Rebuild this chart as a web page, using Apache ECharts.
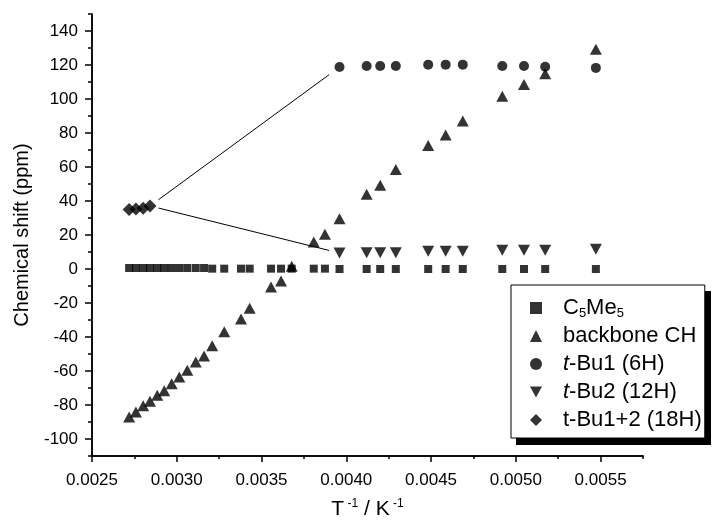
<!DOCTYPE html>
<html><head><meta charset="utf-8">
<script src="https://cdn.jsdelivr.net/npm/echarts@6/dist/echarts.min.js"></script>
<style>html,body{margin:0;padding:0;background:#fff}#c{width:719px;height:522px}</style>
</head><body><div id="c"></div>
<script>
// 1/T values (K^-1) for all measured temperatures
const invT = [0.002719,0.002759,0.002802,0.002842,0.002885,0.002926,0.00297,0.003015,0.003062,0.003112,0.003161,
  0.003209,0.00328,0.003379,0.00343,0.003556,0.003615,0.003678,0.003808,0.003874,
  0.00396,0.00412,0.0042,0.004292,0.004483,0.004586,0.004687,0.00492,0.005048,0.005173,0.005472];
const c5me5 = [0.6,0.6,0.6,0.6,0.6,0.6,0.6,0.6,0.6,0.6,0.6,
  0.2,0.2,0.2,0.2,0.2,0.2,0.2,0.2,0.2,
  0,0,0,0,0,0,0,0,0,0,0];
const backbone = [-87.1,-84.1,-80.4,-77.8,-74.3,-71.6,-67.5,-63.5,-59.6,-54.7,-51.2,
  -45.1,-36.9,-29.4,-23.1,-10.6,-7.1,1.6,15.9,20.4,
  29.6,43.9,49.2,58.5,72.6,78.8,87.1,101.6,108.5,114.9,129.2];
// low-temperature (split) t-Bu signals
const lowInvT = [0.00396,0.00412,0.0042,0.004292,0.004483,0.004586,0.004687,0.00492,0.005048,0.005173,0.005472];
const tBu1 = [118.8,119.4,119.4,119.4,120.2,120.2,120.2,119.4,119.4,119.0,118.3];
const tBu2 = [9.4,9.6,9.6,9.6,10.4,10.4,10.4,11.0,11.0,11.0,11.6];
// high-temperature (averaged) t-Bu signal
const highInvT = [0.002719,0.002759,0.002802,0.002842];
const tBu12 = [35.0,35.3,35.7,37.1];

const xMajor = [0.0025,0.0030,0.0035,0.0040,0.0045,0.0050,0.0055];
const xMinor = [0.00275,0.00325,0.00375,0.00425,0.00475,0.00525,0.00575];
const yMajor = [-100,-80,-60,-40,-20,0,20,40,60,80,100,120,140];
const yMinor = [-110,-90,-70,-50,-30,-10,10,30,50,70,90,110,130,150];

const FONT = 'Arial, "Liberation Sans", sans-serif';
const zip = (xs, ys) => xs.map((x, i) => [x, ys[i]]);

function gapLine(p, q, a, b) {
  return [[p[0] + a * (q[0] - p[0]), p[1] + a * (q[1] - p[1])],
          [p[0] + b * (q[0] - p[0]), p[1] + b * (q[1] - p[1])]];
}
const dLast = [highInvT[3], tBu12[3]];
const line1 = gapLine(dLast, [lowInvT[0], tBu1[0]], 0.045, 0.945);
const line2 = gapLine(dLast, [lowInvT[0], tBu2[0]], 0.045, 0.945);

const axLine = {show: true, onZero: false, lineStyle: {color: '#000', width: 1.5}};
const DOWN_TRI = 'path://M0,0L12,0L6,11Z';
const names = ['C5Me5', 'backbone CH', 't-Bu1 (6H)', 't-Bu2 (12H)', 't-Bu1+2 (18H)'];
const legendRich = {
  'C5Me5': '{n|C}{sub|5}{n|Me}{sub|5}',
  'backbone CH': '{n|backbone CH}',
  't-Bu1 (6H)': '{i|t}{n|-Bu1 (6H)}',
  't-Bu2 (12H)': '{i|t}{n|-Bu2 (12H)}',
  't-Bu1+2 (18H)': '{n|t-Bu1+2 (18H)}'
};
const LG = {left: 511, top: 285, w: 194, h: 153, dx: 5, dy: 6};

const chart = echarts.init(document.getElementById('c'));
chart.setOption({
  animation: false,
  backgroundColor: '#fff',
  grid: {left: 92, right: 76, top: 14, bottom: 66, containLabel: false, outerBoundsMode: 'none'},
  graphic: [{
    id: 'lgShadow', type: 'rect', left: LG.left + LG.dx, top: LG.top + LG.dy, z: 0,
    shape: {width: LG.w, height: LG.h}, style: {fill: '#000'}, silent: true
  }],
  xAxis: [{
    type: 'value', min: 0.0025, max: 0.00575, position: 'bottom',
    axisLine: axLine,
    axisTick: {show: true, customValues: xMajor, length: 6, lineStyle: {color: '#000', width: 1.5}},
    axisLabel: {customValues: xMajor, formatter: v => v.toFixed(4), fontSize: 17, color: '#000', fontFamily: FONT, margin: 16},
    splitLine: {show: false},
    name: '{n|T}{sup| -1}{n| / K}{sup| -1}', nameLocation: 'middle', nameGap: 42,
    nameTextStyle: {fontFamily: FONT, color: '#000', rich: {
      n: {fontSize: 21, fontFamily: FONT, color: '#000', lineHeight: 22},
      sup: {fontSize: 12, fontFamily: FONT, color: '#000', lineHeight: 12, verticalAlign: 'top'}
    }}
  }, {
    type: 'value', min: 0.0025, max: 0.00575, position: 'bottom',
    axisLine: axLine,
    axisTick: {show: true, customValues: xMinor, length: 3, lineStyle: {color: '#000', width: 1.5}},
    axisLabel: {show: false},
    splitLine: {show: false}
  }],
  yAxis: [{
    type: 'value', min: -110, max: 150, position: 'left',
    axisLine: axLine,
    axisTick: {show: true, customValues: yMajor, length: 7, lineStyle: {color: '#000', width: 1.5}},
    axisLabel: {customValues: yMajor, formatter: v => String(v), fontSize: 17, color: '#000', fontFamily: FONT, margin: 14},
    splitLine: {show: false},
    name: 'Chemical shift (ppm)', nameLocation: 'middle', nameRotate: 90, nameGap: 60,
    nameTextStyle: {fontSize: 20, fontFamily: FONT, color: '#000'}
  }, {
    type: 'value', min: -110, max: 150, position: 'left',
    axisLine: axLine,
    axisTick: {show: true, customValues: yMinor, length: 4, lineStyle: {color: '#000', width: 1.5}},
    axisLabel: {show: false},
    splitLine: {show: false}
  }],
  legend: {
    orient: 'vertical', left: LG.left, top: LG.top, z: 5,
    data: [
      {name: names[0]}, {name: names[1]}, {name: names[2]},
      {name: names[3], icon: DOWN_TRI}, {name: names[4]}
    ],
    itemWidth: 12, itemHeight: 12, itemGap: 4,
    backgroundColor: '#fff', borderColor: '#000', borderWidth: 1,
    padding: [11, 3, 6, 19],
    formatter: n => legendRich[n],
    selectedMode: false,
    textStyle: {fontSize: 22, fontFamily: FONT, color: '#000', lineHeight: 24, padding: [0, 0, 0, 16],
      rich: {
        n: {fontSize: 22, fontFamily: FONT, color: '#000', lineHeight: 24},
        i: {fontSize: 22, fontFamily: FONT, color: '#000', lineHeight: 24, fontStyle: 'italic'},
        sub: {fontSize: 13, fontFamily: FONT, color: '#000', lineHeight: 8, verticalAlign: 'bottom'}
      }}
  },
  series: [
    {type: 'line', data: line1, symbol: 'none', silent: true, lineStyle: {color: '#000', width: 1}, z: 1},
    {type: 'line', data: line2, symbol: 'none', silent: true, lineStyle: {color: '#000', width: 1}, z: 1},
    {name: 'C5Me5', type: 'scatter', data: zip(invT, c5me5), symbol: 'rect', symbolSize: 8, itemStyle: {color: '#000'}},
    {name: 'backbone CH', type: 'scatter', data: zip(invT, backbone), symbol: 'triangle', symbolSize: [12, 11], itemStyle: {color: '#000'}},
    {name: 't-Bu1 (6H)', type: 'scatter', data: zip(lowInvT, tBu1), symbol: 'circle', symbolSize: 10, itemStyle: {color: '#000'}},
    {name: 't-Bu2 (12H)', type: 'scatter', data: zip(lowInvT, tBu2), symbol: 'triangle', symbolRotate: 180, symbolSize: [12, 11], itemStyle: {color: '#000'}},
    {name: 't-Bu1+2 (18H)', type: 'scatter', data: zip(highInvT, tBu12), symbol: 'diamond', symbolSize: 13, itemStyle: {color: '#000'}}
  ]
});

// place the legend's drop shadow exactly behind the rendered legend box
try {
  const lm = chart.getModel().getComponent('legend');
  const view = chart.getViewOfComponentModel(lm);
  const g = view.group;
  const r = g.getBoundingRect();
  const x = g.x + r.x, y = g.y + r.y;
  chart.setOption({graphic: [{
    id: 'lgShadow', left: Math.round(x + LG.dx), top: Math.round(y + LG.dy),
    shape: {width: Math.round(r.width), height: Math.round(r.height)}
  }]});
} catch (e) {}
</script></body></html>
